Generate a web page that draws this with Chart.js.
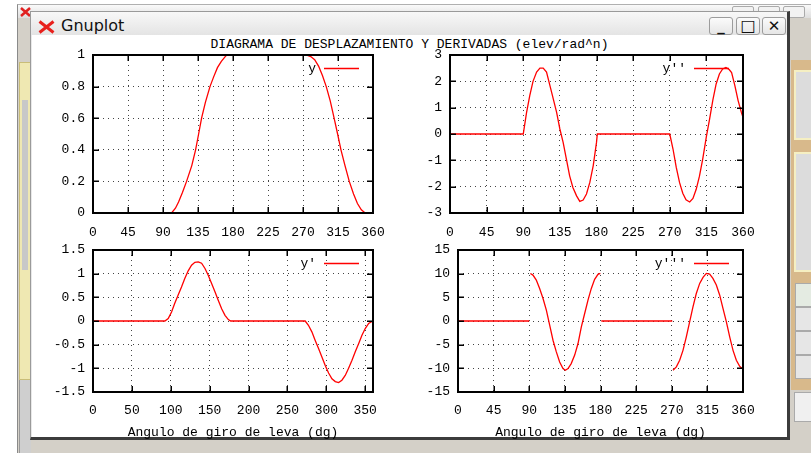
<!DOCTYPE html>
<html><head><meta charset="utf-8">
<script src="https://cdn.jsdelivr.net/npm/chart.js@4.4.0/dist/chart.umd.min.js"></script>
<style>
body{margin:0;width:811px;height:453px;overflow:hidden;position:relative;background:#fff;}
.a{position:absolute;box-sizing:border-box;}
canvas{position:absolute;}
.btn{position:absolute;box-sizing:border-box;width:24px;height:18px;border:1px solid #9c9c9c;border-radius:3px;background:linear-gradient(#fbfbfb,#e6e6e6);font:bold 15px "DejaVu Sans",sans-serif;color:#111;text-align:center;line-height:16px;}
</style></head><body>
<!-- background desktop / back window -->
<div class="a" style="left:17px;top:4px;width:794px;height:449px;background:#d4d0c8;border-left:1px solid #8a8a8a;border-top:1px solid #b0b0b0"></div>
<div class="a" style="left:18px;top:5px;width:793px;height:13px;background:linear-gradient(#fafafa,#dedede)"></div>
<svg class="a" style="left:20px;top:7px" width="11" height="10"><path d="M1 1 L10 9 M10 1 L1 9" stroke="#e02020" stroke-width="2.5"/></svg>
<div class="a" style="left:732px;top:6px;width:22px;height:12px;border:1px solid #aaa;border-radius:2px;background:#f2f2f2"></div>
<div class="a" style="left:758px;top:6px;width:22px;height:12px;border:1px solid #aaa;border-radius:2px;background:#f2f2f2"></div>
<div class="a" style="left:783px;top:6px;width:22px;height:12px;border:1px solid #aaa;border-radius:2px;background:#f2f2f2"></div>
<div class="a" style="left:19px;top:62px;width:12px;height:318px;background:#efe8b2;border:1px solid #c9bd78"></div>
<div class="a" style="left:22px;top:100px;width:6px;height:170px;background:#c8c8c8"></div>
<div class="a" style="left:19px;top:380px;width:12px;height:73px;background:#cfcfcf;border-left:1px solid #999"></div>
<div class="a" style="left:791px;top:30px;width:20px;height:30px;background:#d4d0c8"></div>
<div class="a" style="left:791px;top:60px;width:20px;height:330px;background:#d8b98b"></div>
<div class="a" style="left:794px;top:70px;width:17px;height:70px;background:#dcdcdc;border:2px solid #f5efc2;border-right:none"></div>
<div class="a" style="left:794px;top:152px;width:17px;height:120px;background:#dcdcdc;border:2px solid #f5efc2;border-right:none"></div>
<div class="a" style="left:795px;top:283px;width:16px;height:24px;background:#e4ebe2;border:1px solid #aaa;border-right:none"></div>
<div class="a" style="left:795px;top:307px;width:16px;height:24px;background:#e6e6e6;border:1px solid #aaa;border-right:none"></div>
<div class="a" style="left:795px;top:331px;width:16px;height:24px;background:#e6e6e6;border:1px solid #aaa;border-right:none"></div>
<div class="a" style="left:795px;top:355px;width:16px;height:24px;background:#e6e6e6;border:1px solid #aaa;border-right:none"></div>
<div class="a" style="left:791px;top:390px;width:20px;height:63px;background:#d4d0c8"></div>
<div class="a" style="left:794px;top:392px;width:17px;height:30px;background:#f0f0f0;border:1px solid #aaa;border-right:none"></div>

<!-- gnuplot window -->
<div class="a" style="left:30px;top:11px;width:760px;height:429px;background:#e8e8e8;border:1px solid #9a9a9a;border-right:3px solid #3c3c3c;border-bottom:3px solid #3c3c3c"></div>
<div class="a" style="left:31px;top:12px;width:756px;height:23px;background:linear-gradient(#f8f8f8,#e4e4e4)"></div>
<svg class="a" style="left:38px;top:20px" width="17" height="14"><path d="M1.5 1.5 L15.5 12.5 M15.5 1.5 L1.5 12.5" stroke="#e8201c" stroke-width="3"/></svg>
<div class="a" style="left:61px;top:16px;font:16px 'DejaVu Sans',sans-serif;color:#111;line-height:19px">Gnuplot</div>
<div class="btn" style="left:709px;top:17px;">_</div>
<div class="btn" style="left:736px;top:17px;font-weight:normal;font-size:16px;">□</div>
<div class="btn" style="left:762px;top:17px;">✕</div>
<div class="a" style="left:32px;top:35px;width:755px;height:402px;background:#fff"></div>
<div class="a" style="left:32px;top:37px;width:755px;text-align:center;font:13px 'Liberation Mono',monospace;line-height:15px;color:#000">DIAGRAMA DE DESPLAZAMIENTO Y DERIVADAS (elev/rad^n)</div>

<canvas id="c1"></canvas>
<canvas id="c2"></canvas>
<canvas id="c3"></canvas>
<canvas id="c4"></canvas>

<script>
// ---- tick values ----
const ANG_TICKS_45 = [0, 45, 90, 135, 180, 225, 270, 315, 360];
const ANG_TICKS_50 = [0, 50, 100, 150, 200, 250, 300, 350];
const Y_TICKS  = [0, 0.2, 0.4, 0.6, 0.8, 1];
const D1_TICKS = [-1.5, -1, -0.5, 0, 0.5, 1, 1.5];
const D2_TICKS = [-3, -2, -1, 0, 1, 2, 3];
const D3_TICKS = [-15, -10, -5, 0, 5, 10, 15];
const X_TITLE = 'Angulo de giro de leva (dg)';

// ---- series (angle in degrees, value) ----
const angY = [0, 101, 106, 110, 115, 120.3, 127, 131.9, 135.8, 139.6, 144.5, 150.4, 155, 160, 165, 170, 172,
              274, 280, 285, 290, 295, 299.9, 305, 310, 314.5, 318.8, 324, 329.5, 335, 340, 345, 350];
const valY = [0, 0, 0.03, 0.07, 0.13, 0.2, 0.3, 0.4, 0.5, 0.6, 0.7, 0.8, 0.86, 0.92, 0.96, 0.99, 1,
              1, 0.99, 0.97, 0.93, 0.87, 0.8, 0.71, 0.6, 0.5, 0.4, 0.3, 0.2, 0.12, 0.06, 0.02, 0];

const angD1 = [0, 92.4, 96.7, 101, 105, 109.5, 113.8, 118, 122.4, 126.7, 131, 135.3, 139.6, 144, 148, 152.5, 156.8, 161, 165.4, 169.7, 174, 177,
               272.8, 277, 281.4, 285.7, 290, 294.3, 298.6, 302.9, 307.2, 311.5, 315.8, 320, 324.3, 328.6, 333, 337.2, 341.5, 345.8, 350, 354.4, 358.7];
const valD1 = [0, 0, 0.05, 0.19, 0.37, 0.55, 0.72, 0.9, 1.06, 1.18, 1.24, 1.25, 1.22, 1.11, 0.97, 0.79, 0.62, 0.44, 0.26, 0.12, 0.03, 0,
               0, -0.09, -0.23, -0.41, -0.58, -0.76, -0.94, -1.1, -1.22, -1.28, -1.3, -1.25, -1.15, -1.0, -0.83, -0.65, -0.48, -0.3, -0.16, -0.05, -0.01];

const angD2 = [0, 90, 94, 98, 102, 106.4, 110.5, 114.5, 118.6, 124.8, 131, 135, 139, 143, 147, 151, 155.5, 159.5, 163.6, 167.7, 171.8, 176, 180, 181,
               270, 274, 278, 282, 286, 290, 294.5, 298.5, 302.5, 306.5, 310.5, 315, 319, 323, 327, 331, 335, 339, 343, 346, 350, 354, 358, 360];
const valD2 = [0, 0, 0.8, 1.46, 2.0, 2.35, 2.5, 2.5, 2.35, 1.59, 0.82, 0.19, -0.32, -0.95, -1.59, -2.03, -2.35, -2.56, -2.51, -2.28, -1.84, -1.2, -0.32, 0,
               0, -0.57, -1.27, -1.84, -2.25, -2.5, -2.58, -2.45, -2.1, -1.6, -0.95, -0.1, 0.57, 1.3, 1.9, 2.28, 2.47, 2.53, 2.45, 2.33, 1.84, 1.27, 0.82, 0.63];

const angD3 = [0, 90, 90.7, 91.4, 94.7, 98.9, 103, 107.4, 111.6, 115.8, 120, 124.2, 128.4, 132.6, 135.6, 139, 143, 147.4, 151.6, 155.8, 160, 164.2, 168.4, 172.6, 176.8, 179.8,
               180.4, 181, 270.7, 271.1,
               271.6, 275.8, 280, 284.2, 288.4, 292.6, 296.8, 301, 305.3, 309.5, 313.7, 317.9, 322, 326.3, 330.5, 334.7, 339, 343.2, 347.4, 351.6, 355.8, 359.2];
const valD3 = [0, 0, null, 10.05, 9.7, 8.65, 6.9, 4.76, 2.3, -0.88, -4.06, -6.53, -8.65, -10.06, -10.4, -10.06, -9.0, -7.2, -4.76, -1.23, 1.59, 4.4, 6.88, 8.79, 9.85, 10.05,
               null, 0, 0, null,
               -10.4, -9.7, -8.3, -6.2, -3.35, -0.18, 3.0, 5.8, 7.94, 9.2, 10.05, 9.9, 9.0, 7.6, 5.5, 2.65, -0.18, -3.35, -6.2, -8.3, -9.56, -10.06];

const FONT = {family: "'Liberation Mono', monospace", size: 13};

// draws gnuplot-style frame, inward mirror ticks and the key
const gnuFrame = {
  id: 'gnuFrame',
  afterDatasetsDraw(chart) {
    const ctx = chart.ctx, a = chart.chartArea, xs = chart.scales.x, ys = chart.scales.y;
    ctx.save();
    ctx.strokeStyle = '#000';
    ctx.lineWidth = 1.5;
    ctx.beginPath();
    xs.ticks.forEach(t => {
      const p = Math.round(xs.getPixelForValue(t.value)) + 0.25;
      ctx.moveTo(p, a.bottom); ctx.lineTo(p, a.bottom - 6);
      ctx.moveTo(p, a.top); ctx.lineTo(p, a.top + 6);
    });
    ys.ticks.forEach(t => {
      const p = Math.round(ys.getPixelForValue(t.value)) + 0.25;
      ctx.moveTo(a.left, p); ctx.lineTo(a.left + 6, p);
      ctx.moveTo(a.right, p); ctx.lineTo(a.right - 6, p);
    });
    ctx.stroke();
    ctx.lineWidth = 2;
    ctx.strokeRect(a.left, a.top, a.right - a.left, a.bottom - a.top);
    // key
    const ds = chart.data.datasets[0];
    ctx.strokeStyle = ds.borderColor;
    ctx.lineWidth = 1.3;
    ctx.beginPath();
    ctx.moveTo(a.right - 49, a.top + 13.5); ctx.lineTo(a.right - 14, a.top + 13.5);
    ctx.stroke();
    ctx.fillStyle = '#000';
    ctx.font = "13px 'Liberation Mono', monospace";
    ctx.textAlign = 'right'; ctx.textBaseline = 'middle';
    ctx.fillText(ds.label, a.right - 57, a.top + 14);
    ctx.restore();
  }
};

function makeChart(id, box, cfg) {
  const [L, T, R, B] = box;
  const W = cfg.yw, H = cfg.xh, P = 20, Q = 28;
  const cv = document.getElementById(id);
  cv.style.left = (L - W) + 'px';
  cv.style.top = (T - P) + 'px';
  cv.width = R - L + W + Q;
  cv.height = B - T + P + H;
  const pts = cfg.xs.map((x, i) => ({x: x, y: cfg.ys[i]}));
  return new Chart(cv.getContext('2d'), {
    type: 'line',
    data: {datasets: [{label: cfg.label, data: pts, borderColor: '#ff0000', borderWidth: 1.3,
      pointRadius: 0, fill: false, tension: 0, spanGaps: false}]},
    options: {
      responsive: false, animation: false, devicePixelRatio: 1,
      layout: {padding: {top: P, right: Q, left: 0, bottom: 0}},
      plugins: {legend: {display: false}, tooltip: {enabled: false}},
      scales: {
        x: {
          type: 'linear', min: 0, max: 360,
          afterBuildTicks: s => { s.ticks = cfg.xt.map(v => ({value: v})); },
          afterFit: s => { s.height = H; },
          grid: {color: '#444', lineWidth: 1, drawTicks: false},
          border: {display: false, dash: [1, 4]},
          ticks: {padding: cfg.xpad, color: '#000', font: FONT, maxRotation: 0, autoSkip: false, callback: v => String(v)},
          title: cfg.title ? {display: true, text: cfg.title, color: '#000', font: FONT, padding: {top: 0, bottom: 1}} : {display: false}
        },
        y: {
          type: 'linear', min: cfg.yt[0], max: cfg.yt[cfg.yt.length - 1],
          afterBuildTicks: s => { s.ticks = cfg.yt.map(v => ({value: v})); },
          afterFit: s => { s.width = W; },
          grid: {color: '#444', lineWidth: 1, drawTicks: false},
          border: {display: false, dash: [1, 4]},
          ticks: {padding: 8, color: '#000', font: FONT, autoSkip: false, callback: v => String(v)}
        }
      }
    },
    plugins: [gnuFrame]
  });
}

makeChart('c1', [93, 55, 373, 213], {yw: 60, xh: 30, xpad: 12, xs: angY, ys: valY, label: 'y', xt: ANG_TICKS_45, yt: Y_TICKS});
makeChart('c2', [450, 55, 743, 213], {yw: 40, xh: 30, xpad: 12, xs: angD2, ys: valD2, label: "y''", xt: ANG_TICKS_45, yt: D2_TICKS});
makeChart('c3', [93, 250, 373, 392], {yw: 60, xh: 49, xpad: 11, xs: angD1, ys: valD1, label: "y'", xt: ANG_TICKS_50, yt: D1_TICKS, title: X_TITLE});
makeChart('c4', [458, 250, 743, 392], {yw: 50, xh: 49, xpad: 11, xs: angD3, ys: valD3, label: "y'''", xt: ANG_TICKS_45, yt: D3_TICKS, title: X_TITLE});
</script>
</body></html>
